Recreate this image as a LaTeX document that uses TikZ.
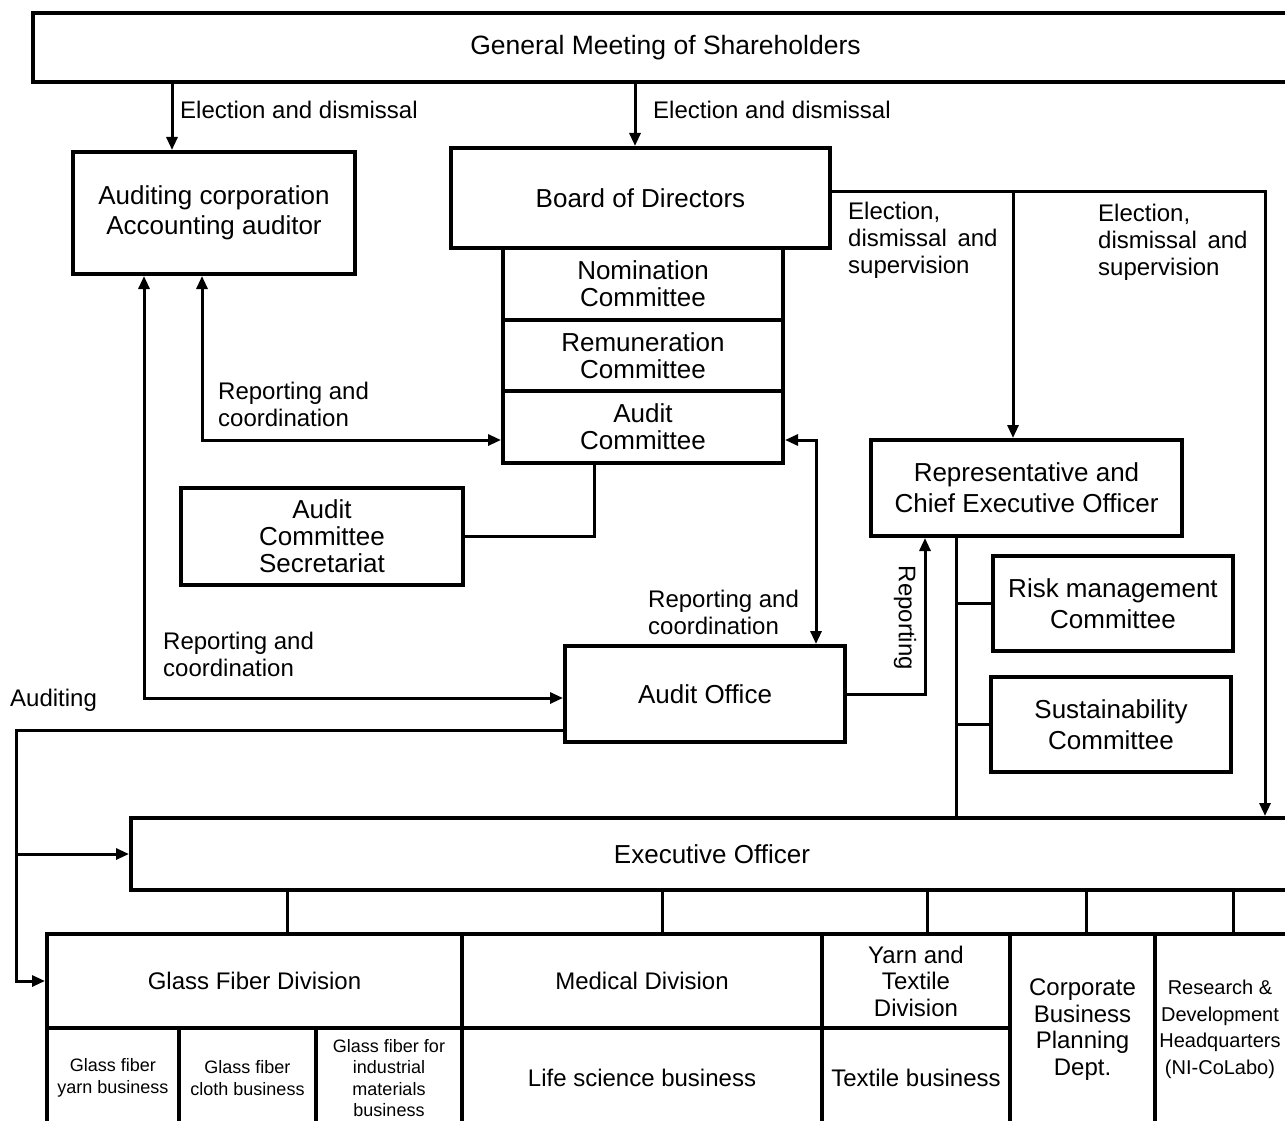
\documentclass[tikz,border=0pt]{standalone}
\usepackage{fontspec}
\setmainfont{Liberation Sans}
\usetikzlibrary{arrows.meta,calc}
\newcommand{\fsbox}{\fontsize{26}{27}\selectfont}
\newcommand{\fsboxw}{\fontsize{26}{31}\selectfont}
\newcommand{\fslbl}{\fontsize{24}{27}\selectfont}
\newcommand{\fstab}{\fontsize{24}{26.5}\selectfont}
\newcommand{\fssmall}{\fontsize{18}{21.5}\selectfont}
\newcommand{\fsrd}{\fontsize{20}{26.5}\selectfont}
\begin{document}
\begin{tikzpicture}[x=1pt,y=-1pt,
  box/.style={draw, line width=4pt, inner sep=0pt, align=center, font=\fsbox},
  boxw/.style={box, font=\fsboxw},
  cell/.style={draw, line width=4pt, inner sep=0pt, align=center, font=\fstab},
  lbl/.style={inner sep=0pt, align=left, font=\fslbl},
  conn/.style={line width=3pt},
  arr/.style={conn, -{Triangle[length=13pt,width=11pt]}},
  arrb/.style={conn, {Triangle[length=13pt,width=11pt]}-{Triangle[length=13pt,width=11pt]}}]
\useasboundingbox (0,0) rectangle (1285,1121);
\clip (0,0) rectangle (1285,1121);

% boxes
\node[box, minimum width=1265, minimum height=69, font=\fontsize{26.5}{27}\selectfont] (gms) at (665.5,47.5) {General Meeting of Shareholders};
\node[boxw, minimum width=282, minimum height=122, font=\fontsize{26}{30}\selectfont] (aud) at (214,213) {\raisebox{-3pt}{\parbox{260pt}{\centering Auditing corporation\\Accounting auditor}}};
\node[box, minimum width=379, minimum height=100] (board) at (640.5,198) {Board of Directors};
\node[box, minimum width=280, minimum height=72] (nom) at (643,284) {Nomination\\Committee};
\node[box, minimum width=280, minimum height=71] (rem) at (643,355.5) {Remuneration\\Committee};
\node[box, minimum width=280, minimum height=72] (ac) at (643,427) {Audit\\Committee};
\node[box, minimum width=282, minimum height=97] (sec) at (322,536.5) {Audit\\Committee\\Secretariat};
\node[boxw, minimum width=311, minimum height=96] (ceo) at (1026.5,488) {Representative and\\Chief Executive Officer};
\node[boxw, minimum width=240, minimum height=95] (risk) at (1113,603.5) {Risk management\\Committee};
\node[boxw, minimum width=240, minimum height=95] (sus) at (1111,724.5) {Sustainability\\Committee};
\node[box, minimum width=280, minimum height=96] (ao) at (705,694) {Audit Office};
\node[box, minimum width=1162, minimum height=72] (exec) at (712,854) {Executive Officer};

% table
\node[cell, minimum width=415, minimum height=94] (gf) at (254.5,981) {Glass Fiber Division};
\node[cell, minimum width=360, minimum height=94] (med) at (642,981) {Medical Division};
\node[cell, minimum width=188, minimum height=94] (yarn) at (916,981) {Yarn and\\Textile\\Division};
\node[cell, minimum width=145, minimum height=191] (corp) at (1082.5,1029.5) {Corporate\\Business\\Planning\\Dept.};
\node[cell, minimum width=145, minimum height=191] (rd) at (1227.5,1029.5) {};
\node[inner sep=0pt, align=center, font=\fsrd] (rdt) at (1220,1029.5) {Research \&\\Development\\Headquarters\\(NI-CoLabo)};
\node[cell, minimum width=132, minimum height=100, font=\fssmall] (g1) at (113,1078) {Glass fiber\\yarn business};
\node[cell, minimum width=137, minimum height=100, font=\fssmall] (g2) at (247.5,1078) {Glass fiber\\cloth business};
\node[cell, minimum width=146, minimum height=100, font=\fssmall] (g3) at (389,1078) {Glass fiber for\\industrial\\materials\\business};
\node[cell, minimum width=360, minimum height=100] (life) at (642,1078) {Life science business};
\node[cell, minimum width=188, minimum height=100] (tex) at (916,1078) {Textile business};

% labels
\node[lbl, anchor=west] (l1) at (180,110) {Election and dismissal};
\node[lbl, anchor=west] (l2) at (653,110) {Election and dismissal};
\node[lbl, anchor=west] (l3) at (848,240) {Election,\\dismissal\hspace{4pt} and\\supervision};
\node[lbl, anchor=west] (l4) at (1098,242) {Election,\\dismissal\hspace{4pt} and\\supervision};
\node[lbl, anchor=west] (l5) at (218,404.5) {Reporting and\\coordination};
\node[lbl, anchor=west] (l6) at (163,654.5) {Reporting and\\coordination};
\node[lbl, anchor=west] (l7) at (648,612.5) {Reporting and\\coordination};
\node[lbl, anchor=west] (l8) at (10,700) {Auditing};
\node[lbl, rotate=-90] (l9) at (905,618) {Reporting};

% helper coordinates
\coordinate (a1) at ([xshift=-42pt]aud.north);
\coordinate (b1) at ([xshift=-5.5pt]board.north);
\coordinate (b2) at ([yshift=7pt]board.east);
\coordinate (e1) at ([xshift=553pt]exec.north);
\coordinate (c1) at ([xshift=-13.5pt]ceo.north);
\coordinate (c2) at ([xshift=-70.5pt]ceo.south);
\coordinate (c3) at ([xshift=-101.5pt]ceo.south);
\coordinate (d1) at ([yshift=-13pt]ac.east);
\coordinate (d2) at ([xshift=111pt]ao.north);
\coordinate (f1) at ([xshift=-12pt]aud.south);
\coordinate (f2) at ([yshift=-13pt]ac.west);
\coordinate (g1c) at ([xshift=-70pt]aud.south);
\coordinate (g2c) at ([yshift=-4pt]ao.west);
\coordinate (h1) at ([xshift=-49pt]ac.south);
\coordinate (k1) at ([yshift=-36pt]ao.west);
\coordinate (kx) at ([xshift=-29pt]gf.west);

% connectors
\draw[arr] (a1 |- gms.south) -- (a1);
\draw[arr] (b1 |- gms.south) -- (b1);
\draw[arr] (b2) -| (e1);
\draw[arr] (c1 |- b2) -- (c1);
\draw[conn] (c2) -- (c2 |- exec.north);
\draw[conn] (c2 |- risk.west) -- (risk.west);
\draw[conn] (c2 |- sus.west) -- (sus.west);
\draw[arr] (ao.east) -| (c3);
\draw[arrb] (d1) -| (d2);
\draw[arrb] (f1) |- (f2);
\draw[arrb] (g1c) |- (g2c);
\draw[conn] (sec.east) -| (h1);
\draw[arr] (k1) -| (kx) -- (gf.west);
\draw[arr] (kx |- exec.west) -- (exec.west);
\foreach \n/\dx in {gf/32.5, med/20, yarn/11, corp/3.5, rd/5.5} {
  \coordinate (t) at ([xshift=\dx pt]\n.north);
  \draw[conn] (t) -- (t |- exec.south);
}
\end{tikzpicture}
\end{document}
